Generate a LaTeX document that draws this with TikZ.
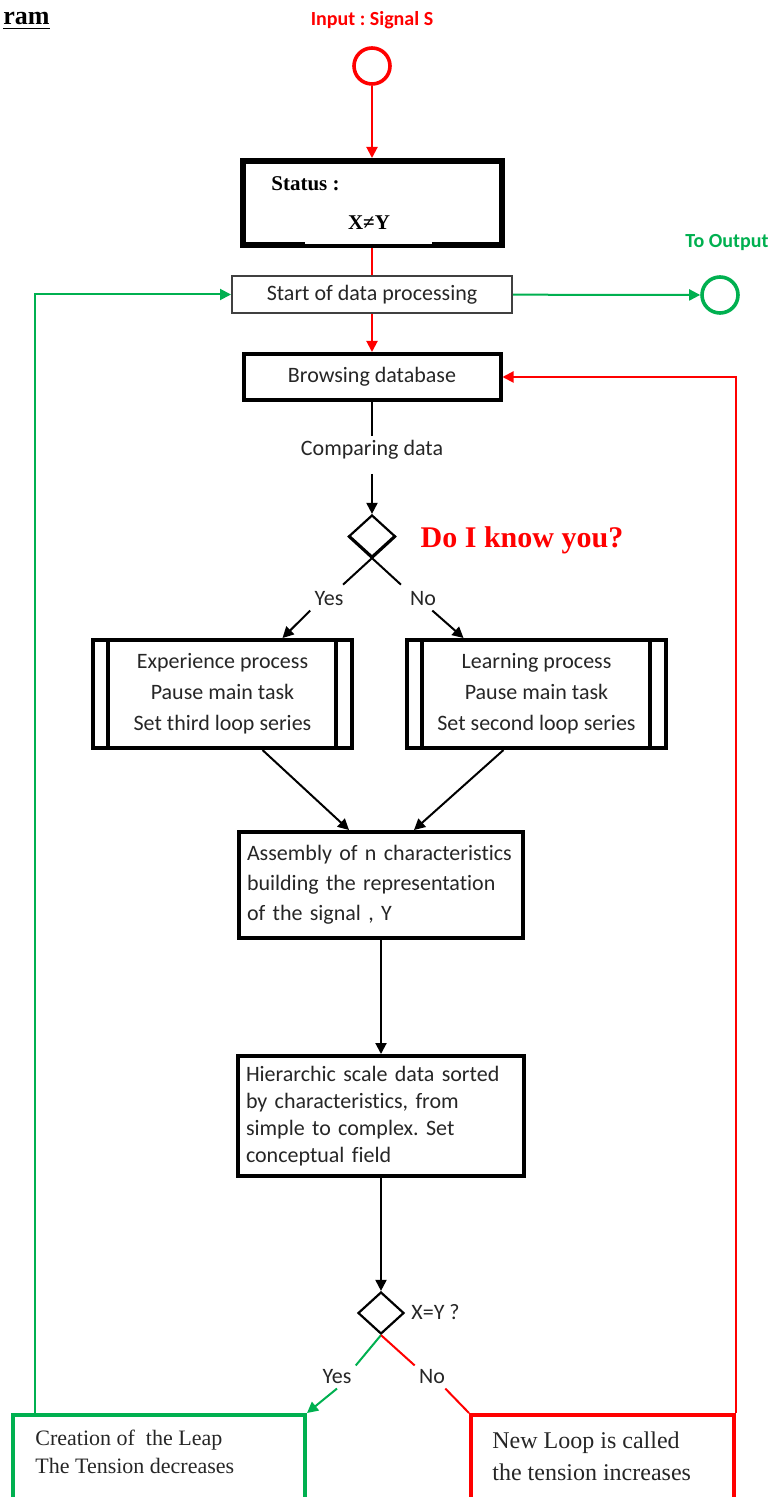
\documentclass[tikz,border=0pt]{standalone}
\usepackage{fontspec}
\setmainfont{Carlito}[Ligatures=NoCommon]
\newfontfamily\seriffont{Liberation Serif}
\usetikzlibrary{arrows.meta,shapes.geometric,calc}
\definecolor{flowred}{RGB}{255,0,0}
\definecolor{flowgreen}{RGB}{0,176,80}
\frenchspacing

\begin{document}
\begin{tikzpicture}[
                x=0.5pt, y=-0.5pt,
                font=\fontsize{11}{13}\selectfont,
                % Block styles
                heavy box/.style={
                    draw=black,
                    line width=2pt,
                    inner sep=0pt,
                    text=black!85
                },
                light box/.style={
                    draw=black!75,
                    line width=1pt,
                    inner sep=0pt,
                    text=black!85
                },
                end box/.style={
                    line width=2pt,
                    minimum height=100pt,
                    inner sep=0pt
                },
                port/.style={
                    circle,
                    line width=1.8pt,
                    minimum size=18pt,
                    inner sep=0pt
                },
                decision/.style={
                    diamond,
                    draw=black,
                    line width=1.1pt,
                    minimum width=23pt,
                    minimum height=21pt,
                    inner sep=0pt
                },
                branch label/.style={
                    inner sep=2pt,
                    text=black!85
                },
                arr/.style={
                    -{Triangle[length=5.5pt,width=5.5pt]},
                    line width=1pt
                },
                plain/.style={
                    line width=1pt
                }
            ]

                \clip (0,0) rectangle (777,1497);

                % --- MAIN COLUMN ---
                \def\xMain{372}
                \def\xLow{381}

                % Heading fragment
                \node[anchor=base west, inner sep=0pt, font=\seriffont\bfseries\fontsize{13}{13}\selectfont] (head) at (3,25) {\underline{ram}};

                % --- INPUT AND STATUS ---
                \node[font=\bfseries, text=flowred] (intitle) at (\xMain,20) {Input : Signal S};
                \node[port, draw=flowred] (in) at (\xMain,66) {};

                \node[heavy box, line width=3pt, minimum width=129.5pt, minimum height=42pt] (status) at (\xMain,203) {};
                \fill[white] (305,242) rectangle (432,244.5);
                \node[anchor=west, inner sep=0pt, font=\seriffont\bfseries\fontsize{10.5}{12}\selectfont] (statuslbl) at (271,184) {Status :};
                \node[inner sep=0pt, font=\seriffont\bfseries\fontsize{10.5}{12}\selectfont] (statusval) at (369,223) {X≠Y};

                \node[light box, minimum width=140pt, minimum height=18.5pt] (start) at (\xMain,294.5) {Start of data processing};

                % Output
                \node[port, draw=flowgreen] (out) at (720,295) {};
                \node[font=\bfseries, text=flowgreen] (outtitle) at (727,243) {To Output};

                % --- DATABASE AND FIRST DECISION ---
                \node[heavy box, minimum width=128.5pt, minimum height=23pt] (browse) at (\xMain,377) {Browsing database};
                \node[inner sep=2pt, text=black!85] (compare) at (\xMain,450) {Comparing data};

                \node[decision] (know) at (\xMain,536) {};
                \node[font=\seriffont\bfseries\fontsize{15}{17}\selectfont, text=flowred] (knowq) at (522,540) {Do I know you?};

                \node[branch label] (yes1) at (329,599) {Yes};
                \node[branch label] (no1) at (423,599) {No};

                % --- PROCESS BLOCKS ---
                \node[heavy box, minimum width=129.5pt, minimum height=54pt, align=center,
                      font=\fontsize{11}{15.5}\selectfont] (exp) at (222.5,694)
                      {Experience process\\Pause main task\\Set third loop series};
                \node[heavy box, minimum width=129.5pt, minimum height=54pt, align=center,
                      font=\fontsize{11}{15.5}\selectfont] (learn) at (536.5,694)
                      {Learning process\\Pause main task\\Set second loop series};

                % Inner bars of the process blocks
                \foreach \blk in {exp, learn} {
                    \draw[line width=2pt] ([xshift=8.5pt]\blk.north west) -- ([xshift=8.5pt]\blk.south west);
                    \draw[line width=2pt] ([xshift=-9pt]\blk.north east) -- ([xshift=-9pt]\blk.south east);
                }

                \node[heavy box, text width=134pt, inner xsep=4pt, minimum height=53pt, align=left,
                      font=\fontsize{11}{15}\selectfont] (asm) at (\xLow,885)
                      {Assembly of n characteristics\\building the representation\\of the signal , Y};
                \node[heavy box, text width=135pt, inner xsep=4pt, minimum height=60pt, align=left,
                      font=\fontsize{11}{13.5}\selectfont] (hier) at (\xLow,1116)
                      {Hierarchic scale data sorted\\by characteristics, from\\simple to complex. Set\\conceptual field};

                % --- SECOND DECISION ---
                \node[decision] (check) at (\xLow,1313) {};
                \node[anchor=west, inner sep=0pt, text=black!85] (checkq) at (411,1312) {X=Y ?};

                \node[branch label] (yes2) at (337,1377) {Yes};
                \node[branch label] (no2) at (432,1377) {No};

                % --- END BLOCKS ---
                \node[end box, draw=flowgreen, minimum width=146pt] (leap) at (159,1515) {};
                \node[anchor=west, inner sep=0pt, align=left, text=black!85,
                      font=\seriffont\fontsize{11}{14}\selectfont] (leaptxt) at (35,1452)
                      {Creation of \ the Leap\\The Tension decreases};
                \node[end box, draw=flowred, minimum width=131.5pt] (loop) at (602.5,1515) {};
                \node[anchor=west, inner sep=0pt, align=left, text=black!85,
                      font=\seriffont\fontsize{12}{16}\selectfont] (looptxt) at (492,1456)
                      {New Loop is called\\the tension increases};

                % --- CONNECTORS ---
                \draw[arr, flowred] (in) -- (status);
                \draw[plain, flowred] (status) -- (start);
                \draw[arr, flowred] (start) -- (browse);
                \draw[arr, flowgreen] (start) -- (out);

                \draw[plain] (browse) -- (compare);
                \draw[arr] ([yshift=-5pt]compare.south) -- (know);
                \draw[plain] (know.west) -- ($(know.west)!2.2!(know.south)$);
                \draw[plain] (know.east) -- ($(know.east)!2.2!(know.south)$);

                \draw[arr] (yes1.south west) -- ([xshift=30pt]exp.north);
                \draw[arr] ([xshift=-4pt]no1.south east) -- ([xshift=-36.5pt]learn.north);
                \draw[arr] ([xshift=20pt]exp.south) -- ([xshift=-16pt]asm.north);
                \draw[arr] ([xshift=-16.5pt]learn.south) -- ([xshift=16.5pt]asm.north);

                \draw[arr] (asm) -- (hier);
                \draw[arr] (hier) -- (check);

                \draw[plain, flowgreen] (check.south) -- (yes2.north east);
                \draw[arr, flowgreen] (yes2.south) -- (leap.north east);
                \draw[plain, flowred] (check.south) -- (no2.north west);
                \draw[plain, flowred] ([xshift=-2pt]no2.south east) -- (loop.north west);

                % Feedback loops
                \draw[arr, flowgreen] ([xshift=12pt]leap.north west) |- (start.west);
                \draw[arr, flowred] (loop.north east) |- (browse.east);

            \end{tikzpicture}
\end{document}
